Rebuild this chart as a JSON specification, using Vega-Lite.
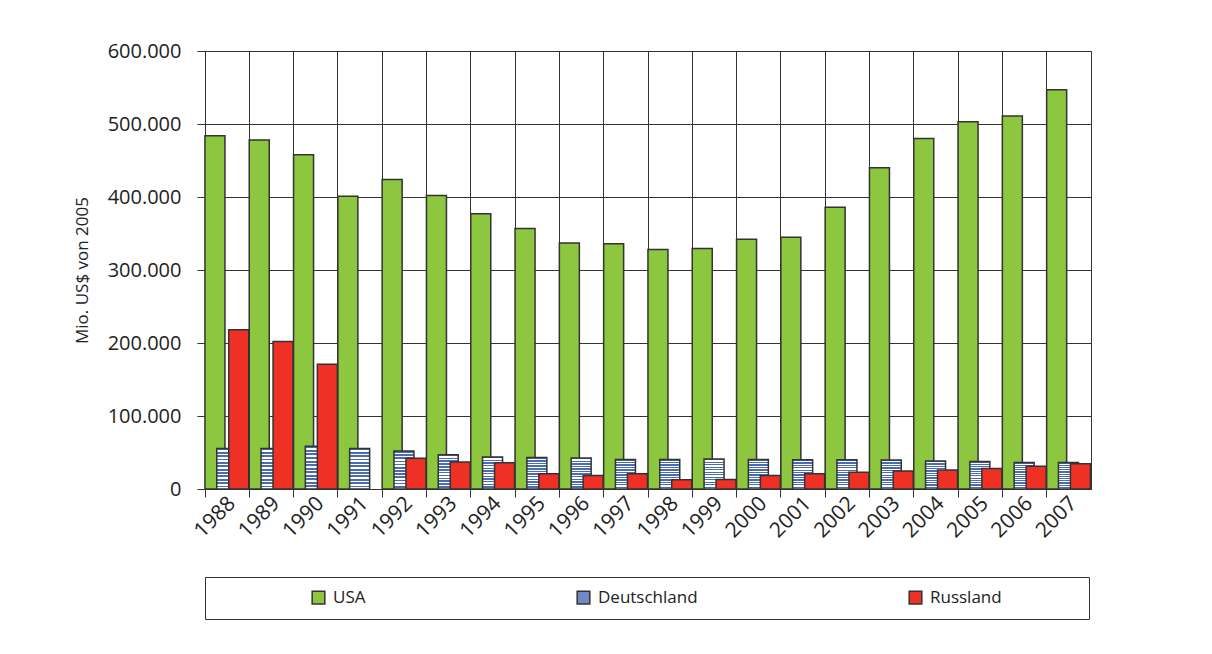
{
  "$schema": "https://vega.github.io/schema/vega-lite/v6.json",
  "width": 886,
  "height": 438,
  "autosize": {"type": "none"},
  "padding": {"left": 205, "top": 51, "right": 121, "bottom": 165},
  "background": "white",
  "config": {
    "locale": {"number": {"decimal": ",", "thousands": ".", "grouping": [3], "currency": ["", " €"]}},
    "font": "Open Sans",
    "view": {"stroke": "#333333", "strokeWidth": 1},
    "axis": {"domainColor": "#333333", "tickColor": "#333333", "gridColor": "#333333", "gridOpacity": 1, "labelColor": "#222222", "titleColor": "#222222", "gridWidth": 1}
  },
  "data": {
    "values": [
      {"year": "1988", "series": "USA", "value": 484000},
      {"year": "1989", "series": "USA", "value": 478000},
      {"year": "1990", "series": "USA", "value": 458000},
      {"year": "1991", "series": "USA", "value": 401000},
      {"year": "1992", "series": "USA", "value": 424000},
      {"year": "1993", "series": "USA", "value": 402000},
      {"year": "1994", "series": "USA", "value": 377000},
      {"year": "1995", "series": "USA", "value": 357000},
      {"year": "1996", "series": "USA", "value": 337000},
      {"year": "1997", "series": "USA", "value": 336000},
      {"year": "1998", "series": "USA", "value": 328000},
      {"year": "1999", "series": "USA", "value": 329500},
      {"year": "2000", "series": "USA", "value": 342000},
      {"year": "2001", "series": "USA", "value": 345000},
      {"year": "2002", "series": "USA", "value": 386000},
      {"year": "2003", "series": "USA", "value": 440000},
      {"year": "2004", "series": "USA", "value": 480000},
      {"year": "2005", "series": "USA", "value": 503000},
      {"year": "2006", "series": "USA", "value": 511000},
      {"year": "2007", "series": "USA", "value": 547000},
      {"year": "1988", "series": "Deutschland", "value": 55600},
      {"year": "1989", "series": "Deutschland", "value": 55600},
      {"year": "1990", "series": "Deutschland", "value": 58400},
      {"year": "1991", "series": "Deutschland", "value": 55600},
      {"year": "1992", "series": "Deutschland", "value": 52000},
      {"year": "1993", "series": "Deutschland", "value": 47000},
      {"year": "1994", "series": "Deutschland", "value": 44000},
      {"year": "1995", "series": "Deutschland", "value": 43000},
      {"year": "1996", "series": "Deutschland", "value": 42500},
      {"year": "1997", "series": "Deutschland", "value": 40500},
      {"year": "1998", "series": "Deutschland", "value": 40500},
      {"year": "1999", "series": "Deutschland", "value": 41000},
      {"year": "2000", "series": "Deutschland", "value": 40500},
      {"year": "2001", "series": "Deutschland", "value": 40000},
      {"year": "2002", "series": "Deutschland", "value": 40000},
      {"year": "2003", "series": "Deutschland", "value": 39700},
      {"year": "2004", "series": "Deutschland", "value": 38400},
      {"year": "2005", "series": "Deutschland", "value": 37800},
      {"year": "2006", "series": "Deutschland", "value": 36400},
      {"year": "2007", "series": "Deutschland", "value": 36400},
      {"year": "1988", "series": "Russland", "value": 218000},
      {"year": "1989", "series": "Russland", "value": 202000},
      {"year": "1990", "series": "Russland", "value": 171000},
      {"year": "1992", "series": "Russland", "value": 42000},
      {"year": "1993", "series": "Russland", "value": 37000},
      {"year": "1994", "series": "Russland", "value": 36000},
      {"year": "1995", "series": "Russland", "value": 21000},
      {"year": "1996", "series": "Russland", "value": 18600},
      {"year": "1997", "series": "Russland", "value": 21000},
      {"year": "1998", "series": "Russland", "value": 12700},
      {"year": "1999", "series": "Russland", "value": 13000},
      {"year": "2000", "series": "Russland", "value": 18600},
      {"year": "2001", "series": "Russland", "value": 21000},
      {"year": "2002", "series": "Russland", "value": 23000},
      {"year": "2003", "series": "Russland", "value": 24700},
      {"year": "2004", "series": "Russland", "value": 26000},
      {"year": "2005", "series": "Russland", "value": 28000},
      {"year": "2006", "series": "Russland", "value": 31000},
      {"year": "2007", "series": "Russland", "value": 34700}
    ]
  },
  "encoding": {
    "x": {
      "field": "year", "type": "ordinal", "sort": null,
      "scale": {"paddingInner": 0, "paddingOuter": 0},
      "axis": {"title": null, "bandPosition": 0, "grid": true, "tickSize": 8, "labelAngle": -45, "labelAlign": "right", "labelBaseline": "middle", "labelFontSize": 21, "labelOffset": 5, "labelPadding": 3}
    },
    "y": {
      "field": "value", "type": "quantitative",
      "scale": {"domain": [0, 600000], "nice": false},
      "axis": {"values": [0, 100000, 200000, 300000, 400000, 500000, 600000], "format": ",d", "tickSize": 8, "labelPadding": 16, "labelFontSize": 20, "title": "Mio. US$ von 2005", "titleFontSize": 17, "titleFontWeight": "normal", "titlePadding": 16, "grid": true}
    }
  },
  "layer": [
    {
      "transform": [{"filter": "datum.series === 'USA'"}],
      "mark": {"type": "bar", "width": 20, "xOffset": -12.2, "stroke": "#333333", "strokeWidth": 1.5, "opacity": 1},
      "encoding": {
        "color": {
          "field": "series", "type": "nominal",
          "scale": {"domain": ["USA", "Deutschland", "Russland"], "range": ["#8DC63F", "#7189C4", "#EE3124"]},
          "legend": {
            "orient": "bottom", "direction": "horizontal", "offset": 35,
            "title": " ", "titleOrient": "left", "titleFontSize": 1, "titlePadding": 93,
            "labelFontSize": 17, "labelColor": "#222222", "labelOffset": 6, "labelLimit": 400,
            "labelExpr": "datum.label === 'Russland' ? 'Russland                 \u200B' : datum.label",
            "symbolType": "square", "symbolSize": 160, "symbolStrokeColor": "#333333", "symbolStrokeWidth": 1.5, "symbolOpacity": 1,
            "columnPadding": 208, "padding": 12, "strokeColor": "#333333"
          }
        }
      }
    },
    {
      "transform": [{"filter": "datum.series === 'Deutschland'"}],
      "mark": {"type": "bar", "width": 20, "xOffset": -0.4, "stroke": "#333333", "strokeWidth": 1.5, "opacity": 1,
        "color": {"gradient": "linear", "x1": 0, "y1": 0, "x2": 0, "y2": 1, "stops": [
            {"offset": 0, "color": "#4A6CB3"}, {"offset": 0.0458, "color": "#4A6CB3"}, {"offset": 0.0458, "color": "#FFFFFF"}, {"offset": 0.0833, "color": "#FFFFFF"},
            {"offset": 0.0833, "color": "#4A6CB3"}, {"offset": 0.1292, "color": "#4A6CB3"}, {"offset": 0.1292, "color": "#FFFFFF"}, {"offset": 0.1667, "color": "#FFFFFF"},
            {"offset": 0.1667, "color": "#4A6CB3"}, {"offset": 0.2125, "color": "#4A6CB3"}, {"offset": 0.2125, "color": "#FFFFFF"}, {"offset": 0.25, "color": "#FFFFFF"},
            {"offset": 0.25, "color": "#4A6CB3"}, {"offset": 0.2958, "color": "#4A6CB3"}, {"offset": 0.2958, "color": "#FFFFFF"}, {"offset": 0.3333, "color": "#FFFFFF"},
            {"offset": 0.3333, "color": "#4A6CB3"}, {"offset": 0.3792, "color": "#4A6CB3"}, {"offset": 0.3792, "color": "#FFFFFF"}, {"offset": 0.4167, "color": "#FFFFFF"},
            {"offset": 0.4167, "color": "#4A6CB3"}, {"offset": 0.4625, "color": "#4A6CB3"}, {"offset": 0.4625, "color": "#FFFFFF"}, {"offset": 0.5, "color": "#FFFFFF"},
            {"offset": 0.5, "color": "#4A6CB3"}, {"offset": 0.5458, "color": "#4A6CB3"}, {"offset": 0.5458, "color": "#FFFFFF"}, {"offset": 0.5833, "color": "#FFFFFF"},
            {"offset": 0.5833, "color": "#4A6CB3"}, {"offset": 0.6292, "color": "#4A6CB3"}, {"offset": 0.6292, "color": "#FFFFFF"}, {"offset": 0.6667, "color": "#FFFFFF"},
            {"offset": 0.6667, "color": "#4A6CB3"}, {"offset": 0.7125, "color": "#4A6CB3"}, {"offset": 0.7125, "color": "#FFFFFF"}, {"offset": 0.75, "color": "#FFFFFF"},
            {"offset": 0.75, "color": "#4A6CB3"}, {"offset": 0.7958, "color": "#4A6CB3"}, {"offset": 0.7958, "color": "#FFFFFF"}, {"offset": 0.8333, "color": "#FFFFFF"},
            {"offset": 0.8333, "color": "#4A6CB3"}, {"offset": 0.8792, "color": "#4A6CB3"}, {"offset": 0.8792, "color": "#FFFFFF"}, {"offset": 0.9167, "color": "#FFFFFF"},
            {"offset": 0.9167, "color": "#4A6CB3"}, {"offset": 0.9625, "color": "#4A6CB3"}, {"offset": 0.9625, "color": "#FFFFFF"}, {"offset": 1, "color": "#FFFFFF"}
          ]}}
    },
    {
      "transform": [{"filter": "datum.series === 'Russland'"}],
      "mark": {"type": "bar", "width": 20, "xOffset": 11.6, "stroke": "#333333", "strokeWidth": 1.5, "opacity": 1},
      "encoding": {
        "color": {"field": "series", "type": "nominal"}
      }
    }
  ]
}
